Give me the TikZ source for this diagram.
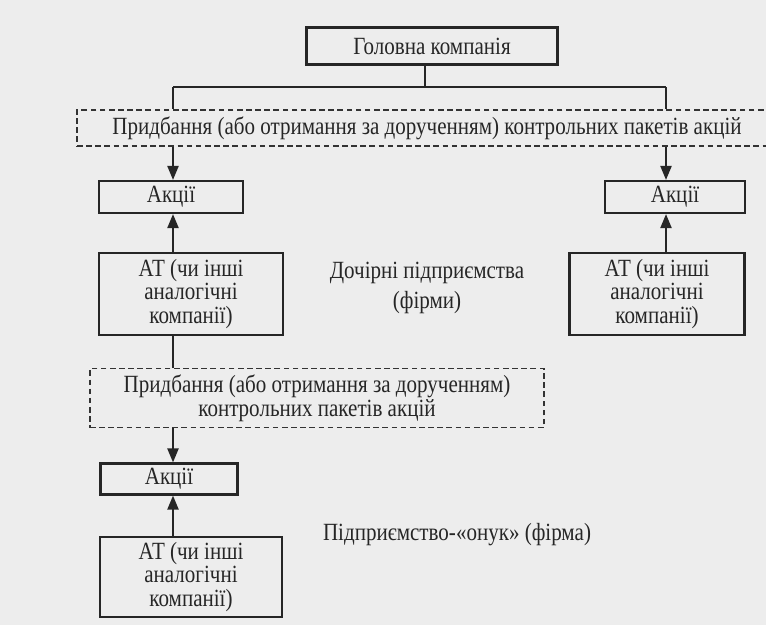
\documentclass[tikz,border=0pt]{standalone}
\usepackage{fontspec}
\setmainfont{Liberation Serif}[FakeStretch=0.85]
\usetikzlibrary{arrows.meta}

\begin{document}
\begin{tikzpicture}[x=0.025cm, y=-0.025cm,
    font=\fontsize{17.6}{16.8}\selectfont, text=black!85,
    box/.style={draw=black!85, line width=1.6pt, inner sep=0pt, align=center},
    dbox/.style={draw=black!80, line width=1.3pt, dash pattern=on 4pt off 2.5pt, inner sep=0pt, align=center},
    link/.style={draw=black!85, line width=1.2pt},
    arr/.style={link, -{Triangle[length=10pt, width=8pt]}}]

            % Page
            \fill[black!7] (0,0) rectangle (766,625);
            \useasboundingbox (0,0) rectangle (766,625);

            % Top level
            \node[box, minimum width=251*0.025cm, minimum height=37*0.025cm] (head) at (432, 46) {Головна компанія};
            \coordinate (jm) at (425, 87);
            \coordinate (jl) at (173, 87);
            \coordinate (jr) at (666, 87);
            \node[dbox, minimum width=700*0.025cm, minimum height=36*0.025cm] (buy1) at (427, 128) {Придбання (або отримання за дорученням) контрольних пакетів акцій};

            % Subsidiaries
            \node[box, minimum width=144*0.025cm, minimum height=32*0.025cm] (sharesl) at (171, 197) {Акції};
            \node[box, minimum width=140*0.025cm, minimum height=32*0.025cm] (sharesr) at (675, 197) {Акції};
            \node[box, minimum width=184*0.025cm, minimum height=82*0.025cm] (jscl) at (191, 294) {АТ (чи інші\\аналогічні\\компанії)};
            \node[box, minimum width=175*0.025cm, minimum height=82*0.025cm] (jscr) at (657, 294) {АТ (чи інші\\аналогічні\\компанії)};
            \node[align=center] (subs) at (427, 288) {Дочірні підприємства\\[4pt](фірми)};

            % Second level
            \node[dbox, minimum width=454*0.025cm, minimum height=59*0.025cm] (buy2) at (317, 398) {Придбання (або отримання за дорученням)\\контрольних пакетів акцій};
            \coordinate (jd) at (173, 0);
            \node[box, minimum width=137*0.025cm, minimum height=31*0.025cm] (shares3) at (169, 479) {Акції};
            \node[box, minimum width=182*0.025cm, minimum height=80*0.025cm] (jsc3) at (191, 577) {АТ (чи інші\\аналогічні\\компанії)};
            \node (grand) at (457, 535) {Підприємство-«онук» (фірма)};

            % Connectors
            \draw[link] (jm |- head.south) -- (jm);
            \draw[link] (jl) -- (jr);
            \draw[link] (jl) -- (jl |- buy1.north);
            \draw[link] (jr) -- (jr |- buy1.north);
            \draw[arr] (jl |- buy1.south) -- (jl |- sharesl.north);
            \draw[arr] (jr |- buy1.south) -- (jr |- sharesr.north);
            \draw[arr] (jl |- jscl.north) -- (jl |- sharesl.south);
            \draw[arr] (jr |- jscr.north) -- (jr |- sharesr.south);
            \draw[link] (jl |- jscl.south) -- (jl |- buy2.north);
            \draw[arr] (jd |- buy2.south) -- (jd |- shares3.north);
            \draw[arr] (jd |- jsc3.north) -- (jd |- shares3.south);

\end{tikzpicture}
\end{document}
